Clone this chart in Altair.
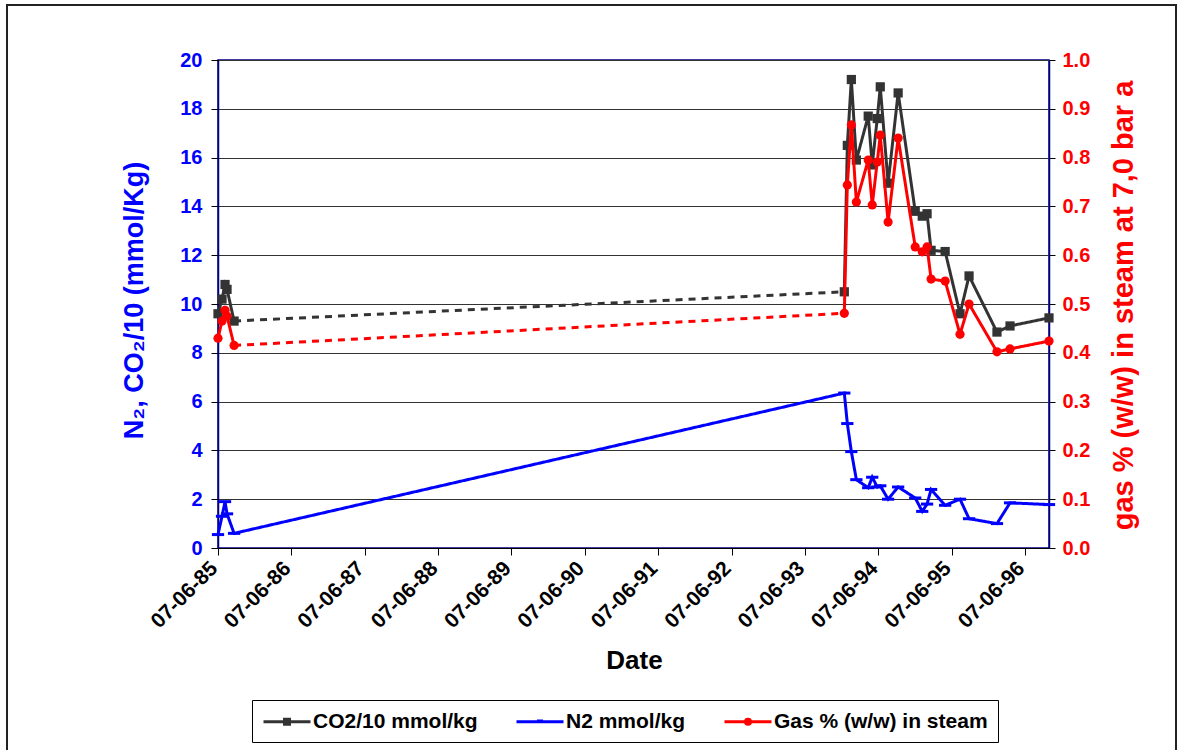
import altair as alt
import pandas as pd

# ---- data ----
dates = ["1985/06/07", "1985/06/27", "1985/07/12", "1985/07/22", "1985/08/26",
         "1993/12/20", "1994/01/04", "1994/01/24", "1994/02/18", "1994/04/18",
         "1994/05/08", "1994/06/02", "1994/06/17", "1994/07/26", "1994/09/14",
         "1994/12/08", "1995/01/12", "1995/02/05", "1995/02/25", "1995/05/06",
         "1995/07/19", "1995/09/02", "1996/01/19", "1996/03/24", "1996/10/04"]
co2 = [9.6, 10.2, 10.8, 10.6, 9.3,
       10.5, 16.5, 19.2, 15.9, 17.7, 15.7, 17.6, 18.9, 14.95, 18.65,
       13.8, 13.6, 13.7, 12.2, 12.15, 9.6, 11.15, 8.85, 9.1, 9.43]
n2 = [0.55, 1.3, 1.9, 1.4, 0.6,
      6.35, 5.1, 3.95, 2.8, 2.47, 2.9, 2.5, 2.55, 2.0, 2.5,
      2.05, 1.5, 1.8, 2.4, 1.75, 2.0, 1.2, 1.0, 1.85, 1.78]
gas = [0.43, 0.465, 0.487, 0.475, 0.415,
       0.481, 0.744, 0.867, 0.709, 0.795, 0.703, 0.791, 0.846, 0.668, 0.840,
       0.617, 0.607, 0.617, 0.551, 0.547, 0.438, 0.500, 0.402, 0.408, 0.424]
n_early = 5
series_names = ["CO2/10 mmol/kg", "N2 mmol/kg", "Gas % (w/w) in steam"]
series_colors = ["#333333", "#0000ff", "#ff0000"]
tick_years = list(range(1985, 1997))
left_ticks = list(range(0, 21, 2))
right_ticks = [i / 10 for i in range(11)]

rows = []
for name, vals in zip(series_names, [co2, n2, gas]):
    for i, (d, v) in enumerate(zip(dates, vals)):
        if name == "N2 mmol/kg":
            seg = "all"
        else:
            seg = "early" if i < n_early else "late"
        rows.append(dict(date=d, value=v, series=name, seg=seg, dash="solid", marker=1))
    if name != "N2 mmol/kg":
        for i in (n_early - 1, n_early):
            rows.append(dict(date=dates[i], value=vals[i], series=name, seg="gap",
                             dash="dashed", marker=0))
df = pd.DataFrame(rows)

FONT = "Liberation Sans"

x = alt.X("date:T",
          scale=alt.Scale(domain=[alt.DateTime(year=1985, month=6, date=7),
                                  alt.DateTime(year=1996, month=10, date=4)]),
          axis=alt.Axis(values=[alt.DateTime(year=y, month=6, date=7) for y in tick_years],
                        format="%d-%m-%y", labelAngle=315, labelAlign="right",
                        labelBaseline="middle", labelFontSize=21, labelColor="black",
                        labelPadding=10, labelOffset=-4, labelOverlap=False,
                        tickSize=7, tickColor="black", domainColor="black",
                        grid=False, title="Date", titleFontSize=26, titleX=416, titleY=112,
                        titleBaseline="middle", titleColor="black"))

y_left = alt.Y("value:Q",
               scale=alt.Scale(domain=[0, 20], nice=False),
               axis=alt.Axis(orient="left", values=left_ticks, format="d",
                             labelColor="#0000ff", labelFontSize=20, labelPadding=9,
                             tickSize=7, tickColor="black", domainColor="#000080",
                             domainWidth=1.5,
                             grid=True, gridColor="#333333", gridWidth=1.2,
                             title="N₂, CO₂/10 (mmol/Kg)", titleColor="#0000ff",
                             titleFontSize=27, titleAngle=270, titleX=-84, titleY=240,
                             titleBaseline="middle"))

y_right = alt.Y("value:Q",
                scale=alt.Scale(domain=[0, 1], nice=False),
                axis=alt.Axis(orient="right", values=right_ticks, format=".1f",
                              labelColor="#ff0000", labelFontSize=20, labelPadding=7,
                              tickSize=6, tickColor="black", domainColor="#000080",
                              domainWidth=1.5, grid=False,
                              title="gas % (w/w) in steam at 7,0 bar a", titleColor="#ff0000",
                              titleFontSize=29, titleAngle=270, titleX=74, titleY=245,
                              titleBaseline="middle"))

legend_paths = ["M-1,0H3.7M1.1,-0.25H1.6V0.25H1.1Z",
                "M-1,0H3.7M1.05,-0.08H1.65",
                "M-1,0H3.7M1.6,0A0.25,0.25,0,1,1,1.1,0A0.25,0.25,0,1,1,1.6,0Z"]

legend = alt.Legend(
    title=None, orient="none", legendX=34, legendY=640, direction="horizontal",
    labelFont=FONT, labelFontWeight="bold", labelFontSize=21, labelColor="black",
    labelLimit=400, labelOffset=28, columnPadding=32, symbolSize=400,
    symbolStrokeWidth=3, strokeColor="black", padding=10, fillColor="white")

color_scale = alt.Scale(domain=series_names, range=series_colors)
color = alt.Color("series:N", scale=color_scale)
dash = alt.StrokeDash("dash:N", scale=alt.Scale(domain=["solid", "dashed"],
                                                range=[[1, 0], [7, 6]]), legend=None)

base = alt.Chart(df)

# legend-only layer (draws no data points)
legend_layer = base.transform_filter("false").mark_point(
    filled=False, strokeWidth=3, opacity=1
).encode(
    x=x, y=y_left,
    color=alt.Color("series:N", scale=color_scale, legend=legend),
    shape=alt.Shape("series:N", scale=alt.Scale(domain=series_names, range=legend_paths),
                    legend=legend),
)

left_lines = base.transform_filter(
    alt.FieldOneOfPredicate(field="series", oneOf=series_names[:2])
).mark_line(strokeWidth=3).encode(x=x, y=y_left, color=color, detail="seg:N", strokeDash=dash)

co2_pts = base.transform_filter(
    (alt.datum.series == series_names[0]) & (alt.datum.marker == 1)
).mark_point(shape="square", filled=True, size=85, opacity=1).encode(x=x, y=y_left, color=color)

n2_pts = base.transform_filter(
    (alt.datum.series == series_names[1]) & (alt.datum.marker == 1)
).mark_point(shape="stroke", filled=False, size=150, strokeWidth=3, opacity=1).encode(
    x=x, y=y_left, color=color)

gas_lines = base.transform_filter(
    alt.datum.series == series_names[2]
).mark_line(strokeWidth=3).encode(x=x, y=y_right, color=color, detail="seg:N", strokeDash=dash)

gas_pts = base.transform_filter(
    (alt.datum.series == series_names[2]) & (alt.datum.marker == 1)
).mark_point(shape="circle", filled=True, size=85, opacity=1).encode(x=x, y=y_right, color=color)

frame = alt.Chart(pd.DataFrame({"f": [0]})).mark_rect(
    fill=None, stroke="#222222", strokeWidth=2
).encode(x=alt.value(-211), x2=alt.value(958), y=alt.value(-55), y2=alt.value(700))

left = alt.layer(legend_layer, left_lines, co2_pts, n2_pts)
right = alt.layer(gas_lines, gas_pts)

chart = alt.layer(frame, left, right).resolve_scale(y="independent").properties(
    width=831, height=488,
    autosize=alt.AutoSizeParams(type="none"),
    padding={"left": 218, "top": 60, "right": 134, "bottom": 202},
    background="white",
).configure_view(
    stroke="#000080", strokeWidth=1.5
).configure_axis(
    labelFont=FONT, labelFontWeight="bold", titleFont=FONT, titleFontWeight="bold"
)

chart.save("out.html", embed_options={"renderer": "svg", "actions": False})
